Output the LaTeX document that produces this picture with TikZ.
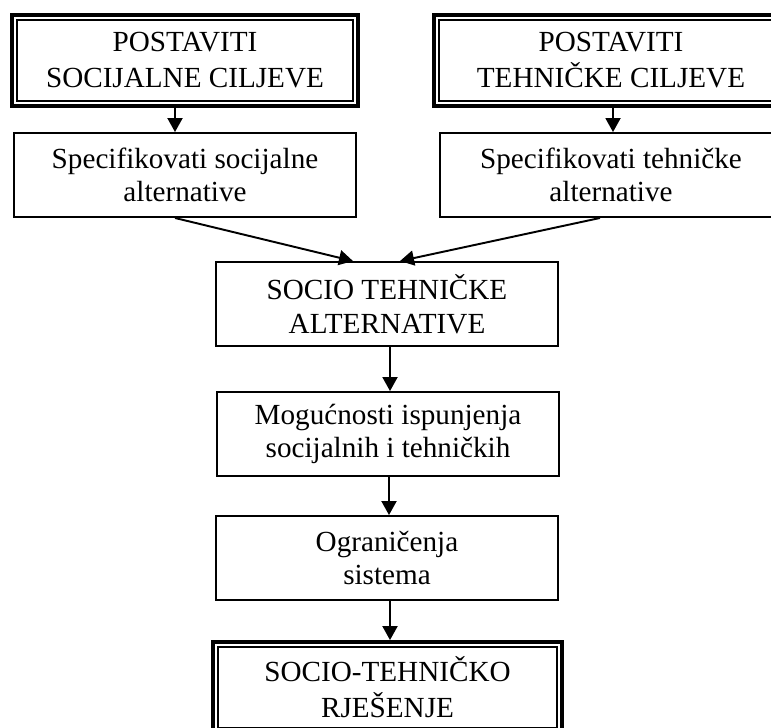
\documentclass[tikz,border=0pt]{standalone}
\usepackage{fontspec}
\setmainfont{Liberation Serif}
\usetikzlibrary{arrows.meta}

\begin{document}
\begin{tikzpicture}[
  box/.style={draw, line width=1.1pt, align=center, inner sep=0pt,
    minimum width=6.84cm, minimum height=1.68cm,
    font=\fontsize{16.6}{19}\selectfont},
  bigbox/.style={box, line width=2.2pt, minimum height=1.82cm,
    font=\fontsize{16.6}{20.5}\selectfont},
  arr/.style={line width=1.1pt, -{Triangle[length=0.28cm, width=0.3cm]}}
]
\useasboundingbox (0,0) rectangle (15.42,-14.54);
\clip (0,0) rectangle (15.42,-14.54);

\node[bigbox, minimum width=6.92cm] (soc) at (3.70,-1.21) {POSTAVITI\\SOCIJALNE CILJEVE};
\node[bigbox, minimum width=7.08cm] (teh) at (12.22,-1.21) {POSTAVITI\\TEHNIČKE CILJEVE};
\node[box] (socalt) at (3.70,-3.50) {Specifikovati socijalne\\alternative};
\node[box] (tehalt) at (12.22,-3.50) {Specifikovati tehničke\\alternative};
\node[box] (alt) at (7.74,-6.08) {SOCIO TEHNIČKE\\ALTERNATIVE};
\node[box] (mog) at (7.76,-8.68) {Mogućnosti ispunjenja\\socijalnih i tehničkih};
\node[box] (ogr) at (7.74,-11.16) {Ograničenja\\sistema};
\node[bigbox, minimum width=6.98cm] (rjes) at (7.75,-13.75) {SOCIO-TEHNIČKO\\RJEŠENJE};

\foreach \n in {soc,teh,rjes}
  \draw[line width=0.9pt] ([shift={(0.14,-0.14)}]\n.north west) rectangle ([shift={(-0.14,0.14)}]\n.south east);

\draw[arr] ([xshift=-0.2cm]soc.south) -- ([xshift=-0.2cm]socalt.north);
\draw[arr] ([xshift=0.04cm]teh.south) -- ([xshift=0.04cm]tehalt.north);
\draw[arr] ([xshift=-0.2cm]socalt.south) -- ([xshift=-0.68cm]alt.north);
\draw[arr] ([xshift=-0.22cm]tehalt.south) -- ([xshift=0.26cm]alt.north);
\draw[arr] ([xshift=0.06cm]alt.south) -- ([xshift=0.04cm]mog.north);
\draw[arr] ([xshift=0.02cm]mog.south) -- ([xshift=0.04cm]ogr.north);
\draw[arr] ([xshift=0.06cm]ogr.south) -- ([xshift=0.05cm]rjes.north);

\end{tikzpicture}
\end{document}
